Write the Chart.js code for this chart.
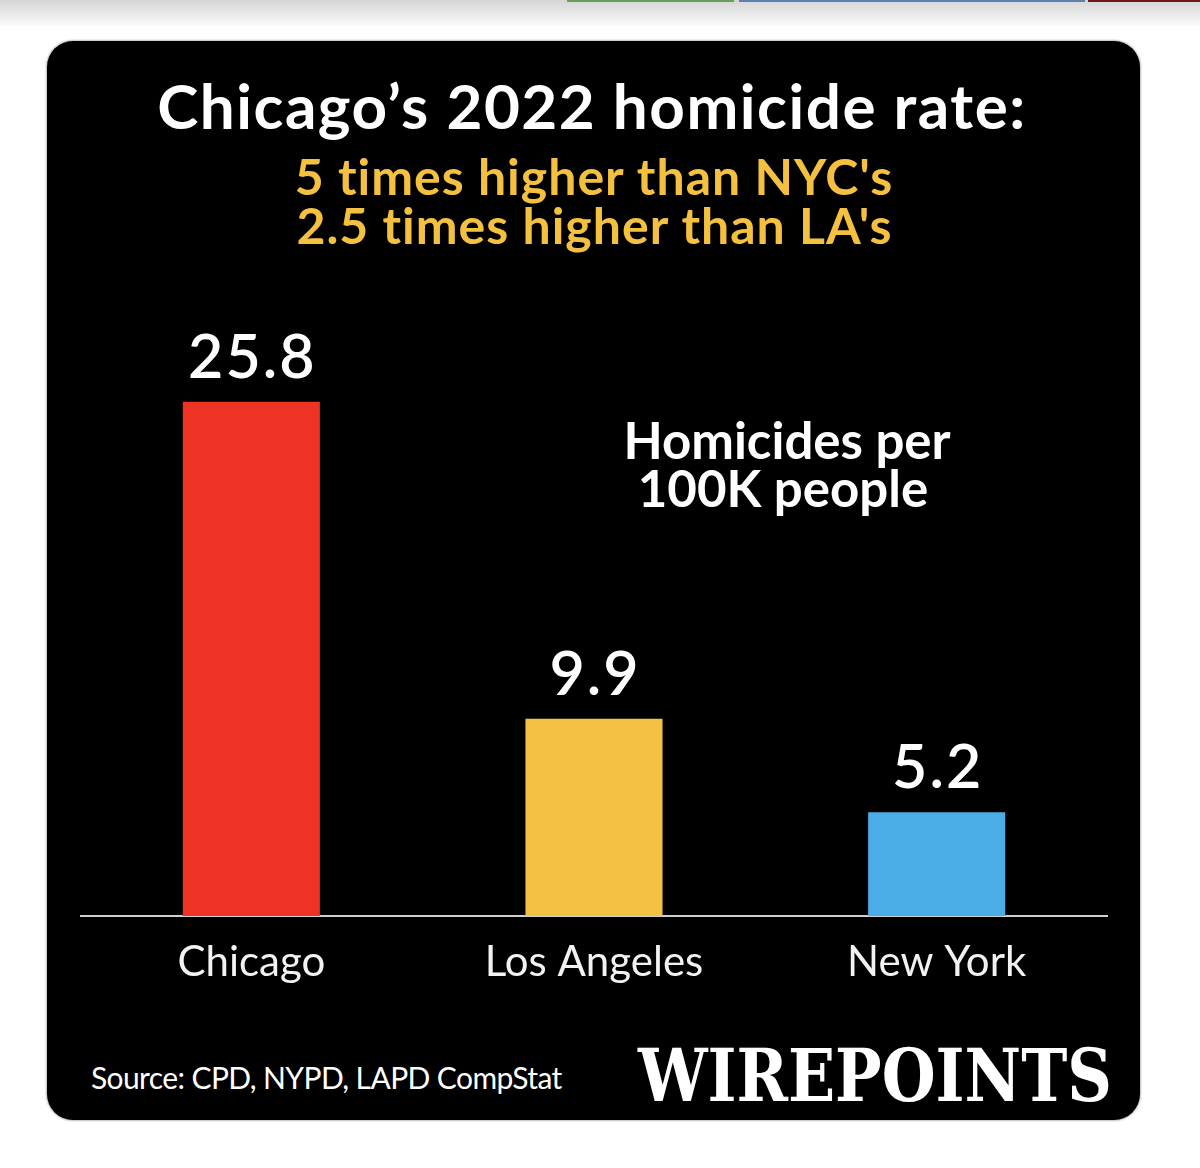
<!DOCTYPE html>
<html>
<head>
<meta charset="utf-8">
<title>Chicago homicide rate 2022</title>
<script src="https://cdn.jsdelivr.net/npm/chart.js@4.4.1/dist/chart.umd.min.js"></script>
<style>
  html, body { margin: 0; padding: 0; background: #fff; }
  body { width: 1200px; height: 1168px; position: relative; overflow: hidden; font-family: Lato, "Open Sans", sans-serif; }
  .topbar { position: absolute; left: 0; top: 0; width: 1200px; height: 26px;
            background: linear-gradient(#d6d6d6, #fafafa); }
  .stripe { position: absolute; top: 0; height: 2px; }
  .card { position: absolute; left: 47px; top: 41px; width: 1093px; height: 1079px;
          background: #000; border-radius: 26px; box-shadow: 0 0 2px 1px #bbb; }
  .txt { position: absolute; white-space: nowrap; line-height: 1; }
  #chartWrap { position: absolute; left: 80px; top: 318px; width: 1028px; height: 682px; }
</style>
</head>
<body>
<div class="topbar"></div>
<div class="stripe" style="left:567px;width:167px;background:#6a9e5a"></div>
<div class="stripe" style="left:739px;width:346px;background:#5f7fae"></div>
<div class="stripe" style="left:1088px;width:112px;background:#6e1a1a"></div>

<div class="card"></div>

<div class="txt" style="left:0;width:1184px;text-align:center;top:74px;font-size:62px;font-weight:700;letter-spacing:1.5px;color:#fff">Chicago’s 2022 homicide rate:</div>
<div class="txt" style="left:0;width:1188px;text-align:center;top:151px;font-size:50px;font-weight:700;letter-spacing:1px;color:#f3c03f">5 times higher than NYC's</div>
<div class="txt" style="left:0;width:1189px;text-align:center;top:200px;font-size:50px;font-weight:700;letter-spacing:1px;color:#f3c03f">2.5 times higher than LA's</div>

<div class="txt" style="left:587px;width:400px;text-align:center;top:414px;font-size:51px;font-weight:700;color:#fff">Homicides per</div>
<div class="txt" style="left:583px;width:400px;text-align:center;top:462px;font-size:51px;font-weight:700;color:#fff">100K people</div>

<div class="txt" style="left:91px;top:1062px;font-size:30px;color:#fff;letter-spacing:-0.6px">Source: CPD, NYPD, LAPD CompStat</div>
<div class="txt" id="logo" style="left:638px;top:1040px;font-size:72px;font-weight:900;color:#fff;font-family:'DejaVu Serif Condensed','DejaVu Serif',serif;transform-origin:0 0">WIREPOINTS</div>

<div id="chartWrap"><canvas id="barChart" width="1028" height="682"></canvas></div>

<script>
// chart values
const cities = ["Chicago", "Los Angeles", "New York"];
const rates = [25.8, 9.9, 5.2];
const barColors = ["#ee3224", "#f4c143", "#4aade8"];

// stretch the logo to its width in the picture
const logo = document.getElementById("logo");
logo.style.transform = "scale(" + (474 / logo.offsetWidth) + ",1)";

// value labels over the bars
const valueLabels = {
  id: "valueLabels",
  afterDatasetsDraw(chart) {
    const ctx = chart.ctx;
    const meta = chart.getDatasetMeta(0);
    ctx.save();
    ctx.fillStyle = "#fff";
    ctx.font = "600 61px Lato, sans-serif";
    ctx.letterSpacing = "2px";
    ctx.textAlign = "center";
    ctx.textBaseline = "alphabetic";
    meta.data.forEach((bar, i) => {
      ctx.fillText(rates[i].toFixed(1), bar.x + 1, bar.y - 24);
    });
    ctx.restore();
  },
};

new Chart(document.getElementById("barChart").getContext("2d"), {
  type: "bar",
  data: {
    labels: cities,
    datasets: [
      {
        label: "Homicides per 100K people",
        data: rates,
        backgroundColor: barColors,
        borderWidth: 0,
        categoryPercentage: 1,
        barPercentage: 0.4,
      },
    ],
  },
  options: {
    responsive: false,
    animation: false,
    devicePixelRatio: 1,
    layout: { padding: 0 },
    plugins: {
      legend: { display: false },
      tooltip: { enabled: false },
      title: { display: false },
    },
    scales: {
      x: {
        grid: { display: false, drawTicks: false },
        border: { display: true, color: "#cfcfcf", width: 2 },
        ticks: {
          color: "#f2f2f2",
          padding: 21,
          font: { family: "Lato, sans-serif", size: 42, weight: "400" },
        },
        afterFit(scale) {
          scale.height = 84;
        },
      },
      y: {
        display: false,
        min: 0,
        max: 30,
      },
    },
  },
  plugins: [valueLabels],
});
</script>
</body>
</html>
